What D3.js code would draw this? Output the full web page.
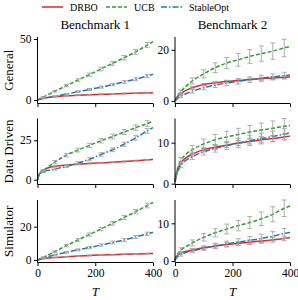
<!DOCTYPE html>
<html>
<head>
<meta charset="utf-8">
<script src="https://cdn.jsdelivr.net/npm/d3@7"></script>
<style>
  body { margin: 0; background: #fff; }
  svg text { font-family: "Liberation Serif", "Times New Roman", serif; fill: #000; }
</style>
</head>
<body>
<svg width="298" height="300"></svg>
<script>
// x grid of the curves and where error bars sit
const T = [0, 5, 10, 20, 40, 60, 100, 140, 180, 220, 260, 300, 340, 380, 400];
const errT = [20, 60, 100, 140, 180, 220, 260, 300, 340, 380];

const methods = ["DRBO", "UCB", "StableOpt"];
const rowNames = ["General", "Data Driven", "Simulator"];
const colNames = ["Benchmark 1", "Benchmark 2"];

// mean regret curves, one set per panel
const general1 = {
  DRBO:      [0, 0.5, 0.9, 1.5, 2.2, 2.7, 3.4, 3.9, 4.3, 4.6, 4.9, 5.2, 5.5, 5.8, 5.9],
  UCB:       [0, 0.6, 1.2, 2.4, 4.8, 7.1, 11.7, 16.3, 20.8, 25.4, 30, 34.6, 39.4, 45, 47.8],
  StableOpt: [0, 0.3, 0.6, 1.2, 2.1, 3, 4.8, 6.8, 8.6, 10.5, 12.5, 14.8, 17, 19.6, 21]
};
const general2 = {
  DRBO:      [0, 1.2, 1.9, 2.8, 4.2, 5.2, 6.4, 7.1, 7.6, 8.0, 8.4, 8.7, 9.0, 9.3, 9.4],
  UCB:       [0, 1.4, 2.2, 3.6, 6.0, 7.8, 10.6, 13.0, 14.8, 16.1, 17.4, 18.5, 19.5, 20.7, 21.3],
  StableOpt: [0, 0.6, 1.1, 1.8, 2.9, 3.8, 5.2, 6.2, 7.0, 7.7, 8.3, 8.9, 9.4, 9.9, 10.1]
};
const data1 = {
  DRBO:      [0, 3, 4.5, 6, 7.8, 8.5, 9.3, 9.8, 10.3, 10.7, 11.1, 11.6, 12.1, 12.6, 12.8],
  UCB:       [0, 3, 4.2, 5.5, 8.5, 11.2, 15.6, 18.8, 21.8, 24.7, 27.4, 30.2, 33, 35.6, 37],
  StableOpt: [0, 3.2, 4.3, 5.2, 6.0, 6.8, 8.5, 10.5, 13, 16, 19, 22.5, 26.5, 31, 33]
};
const data2 = {
  DRBO:      [0.5, 2.5, 3.6, 5.0, 6.4, 7.2, 8.3, 8.9, 9.4, 9.9, 10.3, 10.7, 11.0, 11.4, 11.6],
  UCB:       [0.5, 2.8, 4.0, 5.6, 7.3, 8.3, 9.7, 10.7, 11.4, 12.0, 12.6, 13.1, 13.5, 14.0, 14.2],
  StableOpt: [0.3, 2.0, 3.0, 4.5, 5.8, 6.6, 7.8, 8.6, 9.3, 9.9, 10.5, 11.0, 11.5, 12.1, 12.4]
};
const sim1 = {
  DRBO:      [0, 0.3, 0.5, 0.8, 1.2, 1.5, 2.0, 2.4, 2.7, 3.0, 3.2, 3.4, 3.6, 3.8, 3.9],
  UCB:       [0, 0.4, 0.8, 1.6, 3.3, 5.0, 8.6, 12, 15.3, 18.6, 22, 25.5, 29, 32.7, 34.5],
  StableOpt: [0, 0.3, 0.6, 1.2, 2.2, 3.1, 4.6, 6.1, 7.5, 9, 10.5, 12, 13.8, 15.7, 16.6]
};
const sim2 = {
  DRBO:      [0.3, 1.2, 1.6, 2.1, 2.6, 2.9, 3.5, 4.0, 4.4, 4.7, 5.0, 5.3, 5.6, 6.0, 6.2],
  UCB:       [0.3, 1.5, 2.0, 2.9, 3.9, 4.8, 6.3, 7.5, 8.5, 9.4, 10.2, 11.2, 12.4, 14.0, 14.6],
  StableOpt: [0.1, 0.9, 1.2, 1.7, 2.3, 2.7, 3.4, 4.0, 4.5, 5.0, 5.5, 6.0, 6.6, 7.3, 7.6]
};

// error bar half-lengths at errT
const general1Err = {
  DRBO:      [0.1, 0.2, 0.3, 0.3, 0.3, 0.4, 0.4, 0.4, 0.4, 0.5],
  UCB:       [0.3, 0.6, 0.9, 1.1, 1.3, 1.5, 1.6, 1.8, 2.0, 2.1],
  StableOpt: [0.2, 0.4, 0.5, 0.7, 0.8, 0.9, 1.0, 1.1, 1.2, 1.3]
};
const general2Err = {
  DRBO:      [0.3, 0.4, 0.4, 0.5, 0.5, 0.5, 0.5, 0.6, 0.6, 0.6],
  UCB:       [0.7, 1.2, 1.6, 1.9, 2.2, 2.5, 2.7, 3.0, 3.2, 3.4],
  StableOpt: [0.5, 0.7, 0.8, 0.9, 1.0, 1.1, 1.1, 1.2, 1.2, 1.3]
};
const data1Err = {
  DRBO:      [0.3, 0.3, 0.3, 0.3, 0.3, 0.3, 0.3, 0.3, 0.3, 0.3],
  UCB:       [0.8, 1.0, 1.1, 1.2, 1.3, 1.4, 1.5, 1.6, 1.7, 1.8],
  StableOpt: [0.6, 0.7, 0.8, 0.9, 1.0, 1.1, 1.2, 1.3, 1.4, 1.5]
};
const data2Err = {
  DRBO:      [0.4, 0.5, 0.5, 0.6, 0.6, 0.6, 0.6, 0.7, 0.7, 0.7],
  UCB:       [0.8, 1.0, 1.2, 1.3, 1.4, 1.5, 1.6, 1.7, 1.8, 1.9],
  StableOpt: [0.6, 0.7, 0.8, 0.9, 1.0, 1.1, 1.2, 1.3, 1.3, 1.4]
};
const sim1Err = {
  DRBO:      [0.1, 0.1, 0.1, 0.2, 0.2, 0.2, 0.2, 0.2, 0.2, 0.2],
  UCB:       [0.3, 0.5, 0.7, 0.8, 0.9, 1.0, 1.1, 1.2, 1.3, 1.4],
  StableOpt: [0.2, 0.3, 0.5, 0.6, 0.7, 0.7, 0.8, 0.9, 0.9, 1.0]
};
const sim2Err = {
  DRBO:      [0.3, 0.4, 0.4, 0.5, 0.5, 0.5, 0.6, 0.6, 0.6, 0.6],
  UCB:       [0.6, 0.8, 1.0, 1.1, 1.3, 1.4, 1.6, 1.8, 2.0, 2.2],
  StableOpt: [0.4, 0.5, 0.6, 0.7, 0.8, 0.9, 1.0, 1.1, 1.2, 1.3]
};

const yTicks = [[0, 50], [0, 20], [0, 25], [0, 10], [0, 20], [0, 10]];
const yDomains = [[-2.9, 51.6], [-1, 25], [-3, 38.8], [-0.2, 15.9], [-1.5, 36], [-0.4, 16.2]];
const xTicks = [0, 200, 400];

const panels = [
  [general1, general1Err], [general2, general2Err],
  [data1, data1Err], [data2, data2Err],
  [sim1, sim1Err], [sim2, sim2Err]
];

const colors = { DRBO: "#e3262a", UCB: "#2ca02c", StableOpt: "#1f77b4" };
const dashes = { DRBO: null, UCB: "4,2", StableOpt: "6,2,1.5,2" };

// layout
const colX = [[37.5, 153], [175, 290]];
const rowY = [[37, 103.5], [118.5, 184.5], [200, 262.5]];

const svg = d3.select("svg");

panels.forEach(([means, errs], i) => {
  const r = Math.floor(i / 2), c = i % 2;
  const x = d3.scaleLinear().domain([0, 400]).range(colX[c]);
  const y = d3.scaleLinear().domain(yDomains[i]).range([rowY[r][1], rowY[r][0]]);
  const g = svg.append("g");

  const line = d3.line().x((d, k) => x(T[k])).y(d => y(d)).curve(d3.curveMonotoneX);

  methods.forEach(m => {
    g.append("path")
      .attr("d", line(means[m]))
      .attr("fill", "none")
      .attr("stroke", colors[m])
      .attr("stroke-width", 1.5)
      .attr("stroke-dasharray", dashes[m]);
  });

  // error bars on top, light grey
  methods.forEach(m => {
    errT.forEach((t, k) => {
      const v = means[m][T.indexOf(t)], e = errs[m][k];
      const px = x(t);
      const eg = g.append("g").attr("stroke", "#a0a0a0").attr("stroke-width", 1).attr("opacity", 0.85);
      eg.append("line").attr("x1", px).attr("x2", px).attr("y1", y(v - e)).attr("y2", y(v + e));
      eg.append("line").attr("x1", px - 2.5).attr("x2", px + 2.5).attr("y1", y(v - e)).attr("y2", y(v - e));
      eg.append("line").attr("x1", px - 2.5).attr("x2", px + 2.5).attr("y1", y(v + e)).attr("y2", y(v + e));
    });
  });

  const ya = g.append("g")
    .attr("transform", `translate(${colX[c][0]},0)`)
    .call(d3.axisLeft(y).tickValues(yTicks[i]).tickSize(3.5).tickPadding(2.5));
  const xa = g.append("g")
    .attr("transform", `translate(0,${rowY[r][1]})`)
    .call(d3.axisBottom(x).tickValues(xTicks).tickSize(3.5).tickPadding(2.5)
      .tickFormat(r === 2 ? d3.format("d") : () => ""));
  [ya, xa].forEach(a => {
    a.select(".domain").attr("stroke", "#000").attr("stroke-width", 1);
    a.selectAll(".tick line").attr("stroke", "#000").attr("stroke-width", 1);
    a.selectAll("text").style("font-family", "Liberation Serif, serif").style("font-size", "11.5px");
  });
  ya.select(".domain").attr("d", `M0,${rowY[r][1]}V${rowY[r][0]}`);
  xa.select(".domain").attr("d", `M${colX[c][0]},0H${colX[c][1]}`);
});

// column titles
colNames.forEach((t, c) => {
  svg.append("text")
    .attr("x", (colX[c][0] + colX[c][1]) / 2).attr("y", 29)
    .attr("text-anchor", "middle").style("font-size", "13px").text(t);
});

// row labels
rowNames.forEach((t, r) => {
  const cy = (rowY[r][0] + rowY[r][1]) / 2;
  svg.append("text")
    .attr("transform", `translate(13,${cy}) rotate(-90)`)
    .attr("text-anchor", "middle").style("font-size", "13px").text(t);
});

// x axis labels
colX.forEach(cx => {
  svg.append("text")
    .attr("x", (cx[0] + cx[1]) / 2).attr("y", 296)
    .attr("text-anchor", "middle").style("font-size", "13px").style("font-style", "italic").text("T");
});

// legend
const legendX = [42, 106, 161];
methods.forEach((m, k) => {
  const lx = legendX[k];
  svg.append("line")
    .attr("x1", lx).attr("x2", lx + 21).attr("y1", 7).attr("y2", 7)
    .attr("stroke", colors[m]).attr("stroke-width", 1.5)
    .attr("stroke-dasharray", dashes[m]);
  svg.append("text")
    .attr("x", lx + 28).attr("y", 10.5)
    .style("font-size", "10px").text(m);
});
</script>
</body>
</html>
